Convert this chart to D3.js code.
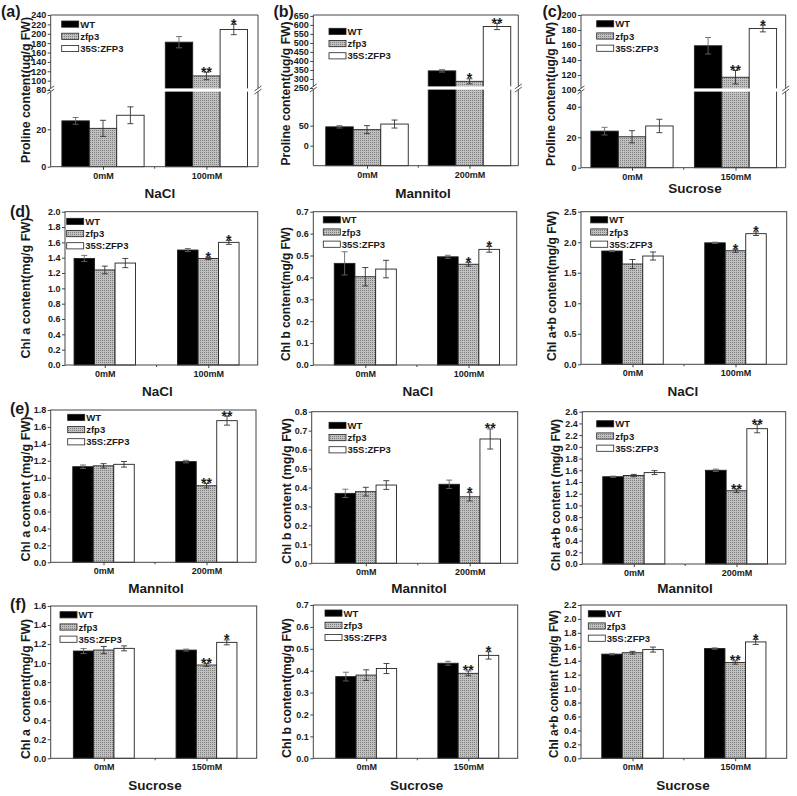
<!DOCTYPE html>
<html><head><meta charset="utf-8">
<script src="https://cdn.jsdelivr.net/npm/d3@7"></script>
<style>
body{margin:0;background:#fff}
svg{display:block}
text{font-family:"Liberation Sans",Arial,sans-serif;font-weight:bold;fill:#1a1a1a}
</style>
</head><body>
<svg id="chart" width="797" height="796"></svg>
<script>
// ---------------- DATA ----------------
const seriesNames = ["WT", "zfp3", "35S:ZFP3"];
const catsNaCl = ["0mM", "100mM"];
const catsMannitol = ["0mM", "200mM"];
const catsSucrose = ["0mM", "150mM"];

// (a) Proline, NaCl
const prolineNaClMean = [[24.5, 20.5, 27.5], [182, 110, 209]];
const prolineNaClErr  = [[1.8, 4.3, 4.5], [12, 8, 11]];
const prolineNaClSig  = [["", "", ""], ["", "**", "*"]];
const prolineNaClTicksLow = [0, 20];
const prolineNaClTicksHigh = [80, 100, 120, 140, 160, 180, 200, 220, 240];

// (b) Proline, Mannitol
const prolineManMean = [[47, 40, 54], [345, 287, 591]];
const prolineManErr  = [[3, 10, 10], [7, 14, 17]];
const prolineManSig  = [["", "", ""], ["", "*", "**"]];
const prolineManTicksLow = [0, 50];
const prolineManTicksHigh = [250, 300, 350, 400, 450, 500, 550, 600, 650];

// (c) Proline, Sucrose
const prolineSucMean = [[24, 20.3, 27.4], [159, 117, 182]];
const prolineSucErr  = [[2.5, 4, 4.4], [11, 9, 4.5]];
const prolineSucSig  = [["", "", ""], ["", "**", "*"]];
const prolineSucTicksLow = [0, 20, 40];
const prolineSucTicksHigh = [100, 120, 140, 160, 180, 200];

// (d) Chlorophyll, NaCl
const chlaNaClMean  = [[1.39, 1.24, 1.33], [1.50, 1.39, 1.60]];
const chlaNaClErr   = [[0.04, 0.05, 0.06], [0.02, 0.015, 0.026]];
const chlaNaClSig   = [["", "", ""], ["", "*", "*"]];
const chlaNaClTicks = [0, 0.2, 0.4, 0.6, 0.8, 1.0, 1.2, 1.4, 1.6, 1.8, 2.0];
const chlbNaClMean  = [[0.464, 0.403, 0.438], [0.494, 0.46, 0.528]];
const chlbNaClErr   = [[0.053, 0.042, 0.04], [0.007, 0.009, 0.013]];
const chlbNaClSig   = [["", "", ""], ["", "*", "*"]];
const chlbNaClTicks = [0, 0.1, 0.2, 0.3, 0.4, 0.5, 0.6, 0.7];
const chlabNaClMean = [[1.856, 1.643, 1.774], [1.99, 1.86, 2.14]];
const chlabNaClErr  = [[0.01, 0.074, 0.066], [0.01, 0.025, 0.03]];
const chlabNaClSig  = [["", "", ""], ["", "*", "*"]];
const chlabNaClTicks = [0, 0.5, 1.0, 1.5, 2.0, 2.5];

// (e) Chlorophyll, Mannitol
const chlaManMean  = [[1.13, 1.14, 1.158], [1.19, 0.905, 1.674]];
const chlaManErr   = [[0.02, 0.026, 0.033], [0.015, 0.026, 0.053]];
const chlaManSig   = [["", "", ""], ["", "**", "**"]];
const chlaManTicks = [0, 0.2, 0.4, 0.6, 0.8, 1.0, 1.2, 1.4, 1.6, 1.8];
const chlbManMean  = [[0.369, 0.378, 0.413], [0.417, 0.351, 0.656]];
const chlbManErr   = [[0.022, 0.023, 0.023], [0.022, 0.022, 0.053]];
const chlbManSig   = [["", "", ""], ["", "*", "**"]];
const chlbManTicks = [0, 0.1, 0.2, 0.3, 0.4, 0.5, 0.6, 0.7, 0.8];
const chlabManMean = [[1.49, 1.51, 1.56], [1.60, 1.25, 2.31]];
const chlabManErr  = [[0.01, 0.02, 0.034], [0.02, 0.03, 0.07]];
const chlabManSig  = [["", "", ""], ["", "**", "**"]];
const chlabManTicks = [0, 0.2, 0.4, 0.6, 0.8, 1.0, 1.2, 1.4, 1.6, 1.8, 2.0, 2.2, 2.4, 2.6];

// (f) Chlorophyll, Sucrose
const chlaSucMean  = [[1.127, 1.137, 1.155], [1.137, 0.98, 1.218]];
const chlaSucErr   = [[0.026, 0.038, 0.026], [0.01, 0.015, 0.026]];
const chlaSucSig   = [["", "", ""], ["", "**", "*"]];
const chlaSucTicks = [0, 0.2, 0.4, 0.6, 0.8, 1.0, 1.2, 1.4, 1.6];
const chlbSucMean  = [[0.373, 0.38, 0.41], [0.434, 0.388, 0.47]];
const chlbSucErr   = [[0.02, 0.024, 0.023], [0.009, 0.011, 0.017]];
const chlbSucSig   = [["", "", ""], ["", "**", "*"]];
const chlbSucTicks = [0, 0.1, 0.2, 0.3, 0.4, 0.5, 0.6, 0.7];
const chlabSucMean = [[1.495, 1.515, 1.56], [1.575, 1.375, 1.67]];
const chlabSucErr  = [[0.01, 0.02, 0.036], [0.01, 0.024, 0.036]];
const chlabSucSig  = [["", "", ""], ["", "**", "*"]];
const chlabSucTicks = [0, 0.2, 0.4, 0.6, 0.8, 1.0, 1.2, 1.4, 1.6, 1.8, 2.0, 2.2];

// ---------------- LAYOUT ----------------
const panels = [
  {L:50.7,R:258,T:15,B:166.7, c:[103,206.4], bw:27.4, lg:[61.7,21], ytX:25, ytY:90, ytLen:146, xt:[160,198], lab:[1,17,"(a)"],
   cats:catsNaCl, mean:prolineNaClMean, err:prolineNaClErr, sig:prolineNaClSig, xTitle:"NaCl", yTitle:"Proline content(ug/g FW)",
   broken:{low:[0,41], high:[80,240], brk:90, tLow:prolineNaClTicksLow, tHigh:prolineNaClTicksHigh}, fmt:d3.format("d")},
  {L:313.3,R:518.3,T:15,B:165.7, c:[367,469.5], bw:27.5, lg:[329,28.3], ytX:285, ytY:93.5, ytLen:144, xt:[423,198], lab:[273.5,17,"(b)"],
   cats:catsMannitol, mean:prolineManMean, err:prolineManErr, sig:prolineManSig, xTitle:"Mannitol", yTitle:"Proline content(ug/g FW)",
   broken:{low:[-50,144], high:[250,655], brk:88, tLow:prolineManTicksLow, tHigh:prolineManTicksHigh}, fmt:d3.format("d")},
  {L:581,R:785.7,T:15,B:167.7, c:[632,735.5], bw:27.4, lg:[596.7,20.7], ytX:550, ytY:94, ytLen:144, xt:[695,193], lab:[542.5,17,"(c)"],
   cats:catsSucrose, mean:prolineSucMean, err:prolineSucErr, sig:prolineSucSig, xTitle:"Sucrose", yTitle:"Proline content(ug/g FW)",
   broken:{low:[0,51], high:[100,200], brk:90, tLow:prolineSucTicksLow, tHigh:prolineSucTicksHigh}, fmt:d3.format("d")},

  {L:65,R:257.7,T:211.7,B:365, c:[104.8,208.3], bw:20.5, lg:[66.7,218.3], ytX:25, ytY:288, ytLen:141, xt:[157.5,396], lab:[10,217,"(d)"],
   cats:catsNaCl, mean:chlaNaClMean, err:chlaNaClErr, sig:chlaNaClSig, xTitle:"NaCl", yTitle:"Chl a content(mg/g FW)", ticks:chlaNaClTicks},
  {L:313.3,R:516.7,T:211.7,B:365, c:[365.3,468.5], bw:20.7, lg:[323.3,216.7], ytX:285, ytY:294, ytLen:134, xt:[418,396],
   cats:catsNaCl, mean:chlbNaClMean, err:chlbNaClErr, sig:chlbNaClSig, xTitle:"NaCl", yTitle:"Chl b content(mg/g FW)", ticks:chlbNaClTicks},
  {L:581,R:786.7,T:211.7,B:364.3, c:[632.5,735.5], bw:20.5, lg:[590.7,216.7], ytX:551.7, ytY:286, ytLen:150, xt:[683,396],
   cats:catsNaCl, mean:chlabNaClMean, err:chlabNaClErr, sig:chlabNaClSig, xTitle:"NaCl", yTitle:"Chl a+b content(mg/g FW)", ticks:chlabNaClTicks},

  {L:50.7,R:256,T:410,B:562.3, c:[103.5,206.5], bw:20.5, lg:[67.7,414.3], ytX:25, ytY:489, ytLen:145, xt:[156,593], lab:[10,414,"(e)"],
   cats:catsMannitol, mean:chlaManMean, err:chlaManErr, sig:chlaManSig, xTitle:"Mannitol", yTitle:"Chl a content (mg/g FW)", ticks:chlaManTicks},
  {L:311.7,R:517.7,T:411.7,B:563.3, c:[365.8,469.7], bw:20.5, lg:[329,422.3], ytX:286.7, ytY:491, ytLen:146, xt:[419,593],
   cats:catsMannitol, mean:chlbManMean, err:chlbManErr, sig:chlbManSig, xTitle:"Mannitol", yTitle:"Chl b content (mg/g FW)", ticks:chlbManTicks},
  {L:582.3,R:785.7,T:411.7,B:564, c:[633.8,736.5], bw:20.7, lg:[596.7,420.7], ytX:555, ytY:495, ytLen:152, xt:[685,593],
   cats:catsMannitol, mean:chlabManMean, err:chlabManErr, sig:chlabManSig, xTitle:"Mannitol", yTitle:"Chl a+b content (mg/g FW)", ticks:chlabManTicks},

  {L:50.7,R:256.7,T:606,B:758.3, c:[103.8,206.5], bw:20.3, lg:[60,611.7], ytX:25, ytY:689, ytLen:140, xt:[155,790], lab:[10,610,"(f)"],
   cats:catsSucrose, mean:chlaSucMean, err:chlaSucErr, sig:chlaSucSig, xTitle:"Sucrose", yTitle:"Chl a\u00a0 content(mg/g FW)", ticks:chlaSucTicks},
  {L:313.3,R:517.7,T:605,B:758.3, c:[366.2,468.3], bw:20.3, lg:[325,610], ytX:286.7, ytY:688, ytLen:140, xt:[416.7,790],
   cats:catsSucrose, mean:chlbSucMean, err:chlbSucErr, sig:chlbSucSig, xTitle:"Sucrose", yTitle:"Chl b content(mg/g FW)", ticks:chlbSucTicks},
  {L:581,R:786.7,T:605,B:758.3, c:[632.5,735.2], bw:20.5, lg:[588.3,610.7], ytX:553, ytY:684, ytLen:148, xt:[683,790],
   cats:catsSucrose, mean:chlabSucMean, err:chlabSucErr, sig:chlabSucSig, xTitle:"Sucrose", yTitle:"Chl a+b content (mg/g FW)", ticks:chlabSucTicks}
];

const svg = d3.select("#chart");
svg.append("rect").attr("width", 797).attr("height", 796).attr("fill", "#fff");

const defs = svg.append("defs");
const pat = defs.append("pattern").attr("id", "dots").attr("width", 2).attr("height", 2)
  .attr("patternUnits", "userSpaceOnUse");
pat.append("rect").attr("width", 2).attr("height", 2).attr("fill", "#c0c0c0");
pat.append("rect").attr("width", 1).attr("height", 1).attr("fill", "#808080");

const fills = ["#000", "url(#dots)", "#fff"];
const frameCol = "#444";

function styleAxis(g, size) {
  g.select(".domain").remove();
  g.selectAll("line").attr("stroke", frameCol);
  g.selectAll("text").attr("font-size", size).attr("fill", "#1a1a1a");
  g.attr("font-family", null).attr("font-size", null);
}

panels.forEach(p => {
  const g = svg.append("g");
  let y, base;
  if (p.broken) {
    const b = p.broken;
    y = d3.scaleLinear().domain([b.low[0], b.low[1], b.high[0], b.high[1]]).range([p.B, b.brk, b.brk, p.T]);
    base = b.low[0];
  } else {
    y = d3.scaleLinear().domain([0, p.ticks[p.ticks.length - 1]]).range([p.B, p.T]);
    base = 0;
  }
  const x = d3.scalePoint().domain(p.cats).range(p.c);
  const fmt = p.fmt || d3.format(".1f");

  // bars
  p.cats.forEach((cat, gi) => {
    seriesNames.forEach((s, si) => {
      const v = p.mean[gi][si];
      const cx = x(cat) + (si - 1) * p.bw;
      g.append("rect")
        .attr("x", cx - p.bw / 2).attr("y", y(v))
        .attr("width", p.bw).attr("height", y(base) - y(v))
        .attr("fill", fills[si]).attr("stroke", "#222").attr("stroke-width", 0.9);
    });
  });

  // axis break band
  if (p.broken) {
    const bk = p.broken.brk;
    g.append("rect").attr("x", p.L - 1).attr("y", bk - 1.6).attr("width", p.R - p.L + 2).attr("height", 3.2).attr("fill", "#fff");
  }

  // error bars and significance
  p.cats.forEach((cat, gi) => {
    seriesNames.forEach((s, si) => {
      const v = p.mean[gi][si], e = p.err[gi][si];
      const cx = x(cat) + (si - 1) * p.bw;
      const y1 = y(v + e), y0 = y(v - e);
      const col = si === 0 ? "#666" : "#333";
      g.append("line").attr("x1", cx).attr("x2", cx).attr("y1", y1).attr("y2", y0).attr("stroke", col).attr("stroke-width", 0.9);
      [y1, y0].forEach(yy => g.append("line").attr("x1", cx - 3).attr("x2", cx + 3).attr("y1", yy).attr("y2", yy).attr("stroke", col).attr("stroke-width", 0.9));
      const sg = p.sig[gi][si];
      if (sg) {
        g.append("text").attr("x", cx).attr("y", y1 + 4.5).attr("text-anchor", "middle")
          .attr("font-size", 14).text(sg);
      }
    });
  });

  // frame
  if (p.broken) {
    const bk = p.broken.brk;
    [[p.T, bk - 1.6], [bk + 1.6, p.B]].forEach(([a, b]) => {
      g.append("line").attr("x1", p.L).attr("x2", p.L).attr("y1", a).attr("y2", b).attr("stroke", frameCol);
      g.append("line").attr("x1", p.R).attr("x2", p.R).attr("y1", a).attr("y2", b).attr("stroke", frameCol);
    });
    g.append("line").attr("x1", p.L).attr("x2", p.R).attr("y1", p.T).attr("y2", p.T).attr("stroke", frameCol);
    g.append("line").attr("x1", p.L).attr("x2", p.R).attr("y1", p.B).attr("y2", p.B).attr("stroke", frameCol);
    [p.L, p.R].forEach(xx => [-1.6, 1.6].forEach(off => {
      g.append("line").attr("x1", xx - 3.5).attr("x2", xx + 3.5)
        .attr("y1", bk + off + 2.5).attr("y2", bk + off - 2.5).attr("stroke", frameCol).attr("stroke-width", 0.9);
    }));
  } else {
    g.append("rect").attr("x", p.L).attr("y", p.T).attr("width", p.R - p.L).attr("height", p.B - p.T)
      .attr("fill", "none").attr("stroke", frameCol);
  }

  // y axes
  if (p.broken) {
    const b = p.broken;
    const yl = d3.scaleLinear().domain(b.low).range([p.B, b.brk]);
    const yh = d3.scaleLinear().domain(b.high).range([b.brk, p.T]);
    g.append("g").attr("transform", `translate(${p.L},0)`)
      .call(d3.axisLeft(yl).tickValues(b.tLow).tickFormat(fmt).tickSize(3).tickPadding(1.5)).call(a => styleAxis(a, 9));
    g.append("g").attr("transform", `translate(${p.L},0)`)
      .call(d3.axisLeft(yh).tickValues(b.tHigh).tickFormat(fmt).tickSize(3).tickPadding(1.5)).call(a => styleAxis(a, 9));
  } else {
    g.append("g").attr("transform", `translate(${p.L},0)`)
      .call(d3.axisLeft(y).tickValues(p.ticks).tickFormat(fmt).tickSize(3).tickPadding(1.5)).call(a => styleAxis(a, 9));
  }

  // x axis
  g.append("g").attr("transform", `translate(0,${p.B})`)
    .call(d3.axisBottom(x).tickSize(3).tickPadding(2.5)).call(a => styleAxis(a, 9));
  g.append("line").attr("x1", (p.c[0] + p.c[1]) / 2).attr("x2", (p.c[0] + p.c[1]) / 2)
    .attr("y1", p.B).attr("y2", p.B + 2).attr("stroke", frameCol);

  // titles
  g.append("text").attr("transform", `translate(${p.ytX},${p.ytY}) rotate(-90)`)
    .attr("text-anchor", "middle").attr("dy", "0.36em").attr("font-size", 12.5)
    .attr("textLength", p.ytLen).attr("lengthAdjust", "spacingAndGlyphs").text(p.yTitle);
  g.append("text").attr("x", p.xt[0]).attr("y", p.xt[1]).attr("text-anchor", "middle")
    .attr("font-size", 13.5).text(p.xTitle);
  if (p.lab) {
    g.append("text").attr("x", p.lab[0]).attr("y", p.lab[1]).attr("font-size", 16).text(p.lab[2]);
  }

  // legend
  seriesNames.forEach((s, si) => {
    const ly = p.lg[1] + si * 12.2;
    g.append("rect").attr("x", p.lg[0]).attr("y", ly).attr("width", 17).attr("height", 6.2)
      .attr("fill", fills[si]).attr("stroke", "#222").attr("stroke-width", 0.8);
    g.append("text").attr("x", p.lg[0] + 18.5).attr("y", ly + 6.6).attr("font-size", 9.5).text(s);
  });
});
</script>
</body></html>
